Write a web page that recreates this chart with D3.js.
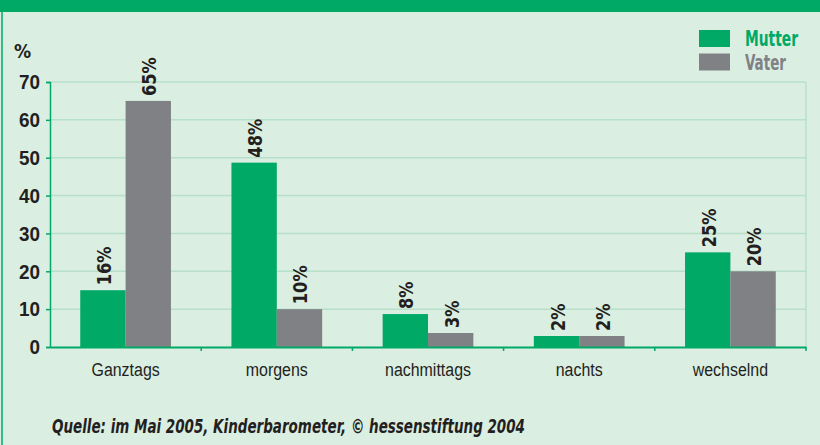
<!DOCTYPE html>
<html>
<head>
<meta charset="utf-8">
<script src="https://cdn.jsdelivr.net/npm/d3@7"></script>
<style>
  html, body { margin: 0; padding: 0; background: #dbeee2; }
  svg { display: block; font-family: "DejaVu Sans Condensed", "DejaVu Sans", sans-serif; }
</style>
</head>
<body>
<div class="js-vis"></div>
<script>
// values
const categories = ["Ganztags", "morgens", "nachmittags", "nachts", "wechselnd"]
const series = ["Mutter", "Vater"]
const mutterBars = [15, 48.7, 8.7, 2.9, 25]
const vaterBars = [65, 10, 3.7, 2.9, 20]
const mutterLabels = ["16%", "48%", "8%", "2%", "25%"]
const vaterLabels = ["65%", "10%", "3%", "2%", "20%"]
const yTicks = [0, 10, 20, 30, 40, 50, 60, 70]

const green = "#00a965", grey = "#808184", grid = "#b8e0c9"
const colors = [green, grey]
const squeeze = 0.84   // the original type is a condensed face

const ewidth = 820, eheight = 445
const margin = { top: 82, right: 14, bottom: 98, left: 50 },
    width = ewidth - margin.left - margin.right,
    height = eheight - margin.top - margin.bottom

const svg = d3.select(".js-vis").append("svg")
  .attr("width", ewidth)
  .attr("height", eheight)

svg.append("rect")
  .attr("width", ewidth).attr("height", eheight)
  .attr("fill", "#dbeee2")

// frame: top banner and left rule
svg.append("rect")
  .attr("width", ewidth).attr("height", 12)
  .attr("fill", green)
svg.append("line")
  .attr("x1", 2).attr("x2", 2).attr("y1", 12).attr("y2", eheight)
  .attr("stroke", green).attr("stroke-width", 1.5)

const x = d3.scaleBand()
  .domain(categories)
  .range([0, width])

const x1 = d3.scaleBand()
  .domain(series)
  .range([0, x.bandwidth() * 0.6])

const y = d3.scaleLinear()
  .domain([0, 70])
  .range([height, 0])

const vis = svg.append("g")
  .attr("transform", "translate(" + margin.left + "," + margin.top + ")")

// grid
vis.append("g")
  .selectAll("line")
  .data(yTicks.slice(1))
.enter().append("line")
  .attr("x1", 0).attr("x2", width)
  .attr("y1", d => y(d)).attr("y2", d => y(d))
  .attr("stroke", grid).attr("stroke-width", 1.5)

vis.append("line")
  .attr("x1", width).attr("x2", width)
  .attr("y1", 0).attr("y2", height)
  .attr("stroke", grid).attr("stroke-width", 1.5)

// bars
const rows = categories.map((c, i) => ({
  cat: c,
  vals: [
    { s: "Mutter", v: mutterBars[i], label: mutterLabels[i] },
    { s: "Vater", v: vaterBars[i], label: vaterLabels[i] }
  ]
}))

const groups = vis.selectAll(".grp")
  .data(rows)
.enter().append("g")
  .attr("transform", d => "translate(" + (x(d.cat) + x.bandwidth() * 0.2) + ",0)")

groups.selectAll("rect")
  .data(d => d.vals)
.enter().append("rect")
  .attr("x", d => x1(d.s))
  .attr("y", d => y(d.v))
  .attr("width", x1.bandwidth())
  .attr("height", d => height - y(d.v))
  .attr("fill", (d, i) => colors[i])

groups.selectAll("text")
  .data(d => d.vals)
.enter().append("text")
  .attr("transform", d => "translate(" + (x1(d.s) + x1.bandwidth() / 2 + 1) + "," + (y(d.v) - 5) + ") rotate(-90) scale(0.9,1)")
  .attr("dy", "0.35em")
  .attr("font-size", 20)
  .attr("font-weight", "bold")
  .attr("fill", "#231f20")
  .text(d => d.label)

// x axis
const xax = d3.axisBottom(x)
  .tickSize(0)
  .tickPadding(16)

const gx = vis.append("g")
  .attr("transform", "translate(0," + height + ")")
  .call(xax)
gx.select(".domain").attr("stroke", green).attr("stroke-width", 1.8)
gx.selectAll("text")
  .attr("font-size", 19)
  .attr("font-family", "inherit")
  .attr("fill", "#231f20")
  .attr("transform", "scale(" + squeeze + ",1)")

gx.selectAll(".sep")
  .data(categories.slice(1).concat([null]))
.enter().append("line")
  .attr("x1", (d, i) => x.step() * (i + 1))
  .attr("x2", (d, i) => x.step() * (i + 1))
  .attr("y1", 0).attr("y2", 4)
  .attr("stroke", green).attr("stroke-width", 1.5)

// y axis
const yax = d3.axisLeft(y)
  .tickValues(yTicks)
  .tickSize(4)
  .tickPadding(6)

const gy = vis.append("g").call(yax)
gy.select(".domain").attr("stroke", green).attr("stroke-width", 1.5)
gy.selectAll(".tick line").attr("stroke", green).attr("stroke-width", 1.5)
gy.selectAll("text")
  .attr("font-size", 21)
  .attr("font-weight", "bold")
  .attr("font-family", "inherit")
  .attr("fill", "#231f20")
  .attr("x", -10 / 0.9)
  .attr("transform", "scale(0.9,1)")

svg.append("text")
  .attr("x", 14).attr("y", 58)
  .attr("font-size", 19)
  .attr("font-weight", "bold")
  .attr("fill", "#231f20")
  .text("%")

// legend
const legend = svg.append("g")
  .attr("transform", "translate(699,30)")
legend.selectAll("rect")
  .data(series)
.enter().append("rect")
  .attr("x", 0).attr("y", (d, i) => i * 23.5)
  .attr("width", 31).attr("height", 17)
  .attr("fill", (d, i) => colors[i])
legend.selectAll("text")
  .data(series)
.enter().append("text")
  .attr("x", 46).attr("y", (d, i) => i * 23.5 + 16)
  .attr("font-size", 21)
  .attr("font-weight", "bold")
  .attr("fill", (d, i) => colors[i])
  .attr("textLength", (d, i) => [53, 41][i])
  .attr("lengthAdjust", "spacingAndGlyphs")
  .text(d => d)

// source
svg.append("text")
  .attr("x", 52).attr("y", 433)
  .attr("font-size", 19)
  .attr("font-style", "italic")
  .attr("font-weight", "bold")
  .attr("fill", "#231f20")
  .attr("textLength", 473)
  .attr("lengthAdjust", "spacingAndGlyphs")
  .text("Quelle: im Mai 2005, Kinderbarometer, © hessenstiftung 2004")
</script>
</body>
</html>
